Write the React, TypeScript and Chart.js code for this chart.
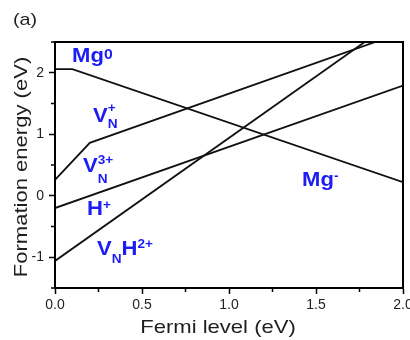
import { useEffect, useRef } from 'react';
import { Chart, registerables } from 'chart.js';

Chart.register(...registerables);

// Data: formation energy lines (x = Fermi level in eV, y = formation energy in eV)
const mgX = [0, 0.1, 2.0];
const mgY = [2.06, 2.06, 0.22];
const vnX = [0, 0.2, 2.0];
const vnY = [0.26, 0.86, 2.66];
const hX = [0, 2.0];
const hY = [-0.2, 1.79];
const vnhX = [0, 2.0];
const vnhY = [-1.06, 2.94];

const xMin = 0;
const xMax = 2.0;
const yMin = -1.5;
const yMax = 2.5;
const xMajorStep = 0.5;
const yMajorStep = 1;

const panelLabel = '(a)';
const xTitle = 'Fermi level (eV)';
const yTitle = 'Formation energy (eV)';

type Part = { t: string; size: number; dy: number; stack?: boolean };
type Label = { x: number; y: number; parts: Part[] };

// Curve labels, anchored at (Fermi level, energy) of the text baseline start
const labels: Label[] = [
  { x: 0.098, y: 2.17, parts: [{ t: 'Mg', size: 21, dy: 0 }, { t: '0', size: 15, dy: -3.5 }] },
  {
    x: 0.218, y: 1.2, parts: [
      { t: 'V', size: 21, dy: 0 },
      { t: '+', size: 13, dy: -9.5 },
      { t: 'N', size: 13, dy: 6, stack: true },
    ],
  },
  {
    x: 0.161, y: 0.386, parts: [
      { t: 'V', size: 21, dy: 0 },
      { t: '3+', size: 13, dy: -8 },
      { t: 'N', size: 13, dy: 11, stack: true },
    ],
  },
  { x: 0.184, y: -0.313, parts: [{ t: 'H', size: 21, dy: 0 }, { t: '+', size: 13, dy: -6 }] },
  {
    x: 0.241, y: -0.963, parts: [
      { t: 'V', size: 21, dy: 0 },
      { t: 'N', size: 13, dy: 8 },
      { t: 'H', size: 21, dy: 0 },
      { t: '2+', size: 13, dy: -7 },
    ],
  },
  { x: 1.42, y: 0.159, parts: [{ t: 'Mg', size: 21, dy: 0 }, { t: '-', size: 13, dy: -6 }] },
];

const LABEL_COLOR = 'rgb(28,28,245)';
const FONT = 'Arial, "Liberation Sans", Helvetica, sans-serif';
const STRETCH = 1.1;

function isMajor(v: number, step: number) {
  const r = v / step;
  return Math.abs(r - Math.round(r)) < 1e-6;
}

function drawRich(ctx: CanvasRenderingContext2D, parts: Part[], x: number, y: number) {
  ctx.save();
  ctx.translate(x, y);
  ctx.scale(1.05, 1);
  ctx.fillStyle = LABEL_COLOR;
  ctx.textBaseline = 'alphabetic';
  ctx.textAlign = 'left';
  let cx = 0;
  let prevStart = 0;
  let prevW = 0;
  for (const p of parts) {
    ctx.font = `bold ${p.size}px ${FONT}`;
    const w = ctx.measureText(p.t).width;
    let start = cx;
    if (p.stack) {
      start = prevStart;
    }
    ctx.fillText(p.t, start, p.dy);
    if (p.stack) {
      cx = prevStart + Math.max(prevW, w);
    } else {
      cx = start + w;
      prevStart = start;
      prevW = w;
    }
  }
  ctx.restore();
}

function drawStretched(ctx: CanvasRenderingContext2D, text: string, x: number, y: number, size: number, rot: number) {
  ctx.save();
  ctx.translate(x, y);
  ctx.rotate(rot);
  ctx.scale(STRETCH + 0.06, 1);
  ctx.font = `${size}px ${FONT}`;
  ctx.fillStyle = '#1e1e1e';
  ctx.textAlign = 'center';
  ctx.textBaseline = 'alphabetic';
  ctx.fillText(text, 0, 0);
  ctx.restore();
}

const overlayPlugin = {
  id: 'overlay',
  afterDraw(chart: any) {
    const { ctx, chartArea, scales } = chart;
    const xs = scales.x;
    const ys = scales.y;
    ctx.save();
    // minor ticks
    ctx.strokeStyle = '#000';
    ctx.lineWidth = 1.5;
    for (let v = xMin; v <= xMax + 1e-9; v += 0.25) {
      if (isMajor(v, xMajorStep)) continue;
      const px = xs.getPixelForValue(v);
      ctx.beginPath();
      ctx.moveTo(px, chartArea.bottom);
      ctx.lineTo(px, chartArea.bottom + 4);
      ctx.stroke();
    }
    for (let v = yMin; v <= yMax + 1e-9; v += 0.5) {
      if (isMajor(v, yMajorStep)) continue;
      const py = ys.getPixelForValue(v);
      ctx.beginPath();
      ctx.moveTo(chartArea.left, py);
      ctx.lineTo(chartArea.left - 4, py);
      ctx.stroke();
    }
    // frame
    ctx.lineWidth = 2;
    ctx.strokeRect(chartArea.left, chartArea.top, chartArea.right - chartArea.left, chartArea.bottom - chartArea.top);
    ctx.restore();

    for (const l of labels) {
      drawRich(ctx, l.parts, xs.getPixelForValue(l.x), ys.getPixelForValue(l.y));
    }

    // titles
    drawStretched(ctx, xTitle, 218, 333, 19, 0);
    drawStretched(ctx, yTitle, 27, 167, 19, -Math.PI / 2);
    ctx.save();
    ctx.translate(13, 25);
    ctx.scale(STRETCH + 0.06, 1);
    ctx.font = `17px ${FONT}`;
    ctx.fillStyle = '#1e1e1e';
    ctx.textAlign = 'left';
    ctx.fillText(panelLabel, 0, 0);
    ctx.restore();
  },
};

function toPoints(xs: number[], ys: number[]) {
  return xs.map((x, i) => ({ x, y: ys[i] }));
}

export default function App() {
  const ref = useRef<HTMLCanvasElement | null>(null);
  useEffect(() => {
    if (!ref.current) return;
    const lineStyle = {
      borderColor: '#111',
      borderWidth: 1.8,
      pointRadius: 0,
      fill: false,
      tension: 0,
    };
    const chart = new Chart(ref.current, {
      type: 'line',
      data: {
        datasets: [
          { label: 'Mg', data: toPoints(mgX, mgY), ...lineStyle },
          { label: 'VN', data: toPoints(vnX, vnY), ...lineStyle },
          { label: 'H', data: toPoints(hX, hY), ...lineStyle },
          { label: 'VNH', data: toPoints(vnhX, vnhY), ...lineStyle },
        ],
      },
      options: {
        animation: false,
        responsive: false,
        layout: { padding: { left: 0, right: 7, top: 42, bottom: 0 } },
        plugins: {
          legend: { display: false },
          tooltip: { enabled: false },
          title: { display: false },
        },
        scales: {
          x: {
            type: 'linear',
            min: xMin,
            max: xMax,
            afterFit: (s: any) => { s.height = 52; s.paddingLeft = 0; s.paddingRight = 0; },
            border: { display: true, color: '#000', width: 2 },
            grid: {
              drawOnChartArea: false,
              drawTicks: true,
              tickLength: 6,
              tickWidth: 1.5,
              tickColor: (c: any) => (c.tick && isMajor(c.tick.value, xMajorStep) ? '#000' : 'rgba(0,0,0,0)'),
            },
            ticks: {
              stepSize: 0.25,
              autoSkip: false,
              maxRotation: 0,
              padding: 3,
              color: '#222',
              font: { family: FONT, size: 14 },
              callback: (v: any) => (isMajor(Number(v), xMajorStep) ? Number(v).toFixed(1) : ''),
            },
          },
          y: {
            type: 'linear',
            min: yMin,
            max: yMax,
            afterFit: (s: any) => { s.width = 55; s.paddingTop = 0; s.paddingBottom = 0; },
            border: { display: true, color: '#000', width: 2 },
            grid: {
              drawOnChartArea: false,
              drawTicks: true,
              tickLength: 6,
              tickWidth: 1.5,
              tickColor: (c: any) => (c.tick && isMajor(c.tick.value, yMajorStep) ? '#000' : 'rgba(0,0,0,0)'),
            },
            ticks: {
              stepSize: 0.5,
              autoSkip: false,
              padding: 5,
              color: '#222',
              font: { family: FONT, size: 14 },
              callback: (v: any) => (isMajor(Number(v), yMajorStep) ? String(Math.round(Number(v))) : ''),
            },
          },
        },
      },
      plugins: [overlayPlugin],
    });
    return () => chart.destroy();
  }, []);
  return (
    <div style={{ position: 'absolute', left: 0, top: 0, width: 410, height: 340, background: '#fff' }}>
      <canvas ref={ref} width={410} height={340} style={{ display: 'block' }} />
    </div>
  );
}
